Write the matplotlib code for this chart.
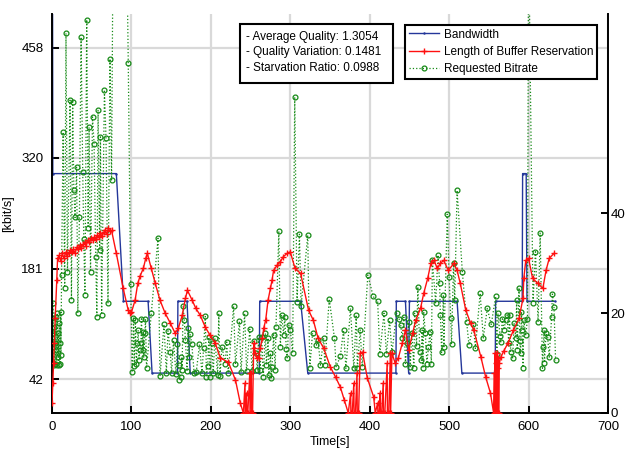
import numpy as np
import matplotlib
matplotlib.use('Agg')
from matplotlib import pyplot as plt
from matplotlib.patches import Rectangle

plt.rcParams['font.family'] = ['Liberation Sans', 'DejaVu Sans']
plt.rcParams['font.size'] = 8.5

# bandwidth (kbit/s)
bw_t = [0, 1, 81, 90, 121, 126, 158, 158.5, 170, 174, 261, 261.5, 313, 322,
        433, 433.5, 445, 449, 450, 510, 516, 558, 558.5, 592, 592.5, 597, 598, 633]
bw_v = [1000, 300, 300, 140, 140, 50, 50, 140, 140, 50, 50, 140, 140, 50,
        50, 140, 140, 50, 140, 140, 50, 50, 140, 140, 300, 300, 140, 140]

# length of buffer reservation (s), right axis
buf_t = [0, 1, 2, 3, 4, 6, 7, 9, 11, 13, 15, 17, 19, 21, 23, 25, 27, 29, 31, 33,
         35, 37, 39, 41, 43, 45, 47, 49, 51, 53, 55, 57, 59, 61, 63, 65, 67, 69,
         71, 73, 75, 81, 89.6, 96, 98, 100, 104.6, 108, 111, 115, 118, 120, 125,
         130, 136, 142.5, 149, 155, 159, 164, 168, 170.5, 176.5, 181, 186.6, 193,
         199, 205.5, 212, 222, 231, 237, 241,
         243, 243.3, 245, 245.3, 246.5, 249, 249.3, 251, 251.3, 252.5, 254, 254.3,
         256, 258, 260, 262, 265, 266.5, 269, 272, 275, 277, 279, 283.7, 287.5,
         291, 296, 300, 306, 313, 323, 329, 335, 342, 350.5, 357, 363, 368, 373,
         376, 376.3, 378, 380, 380.3, 382, 384, 384.3, 386, 388, 391, 397, 405, 407,
         410, 410.3, 412, 413, 413.3, 415, 417, 417.3, 419, 422, 422.3, 424, 426,
         426.3, 428, 432, 436, 441, 445, 449, 454, 458, 464, 468, 473, 477, 481,
         485, 489, 493, 499, 506, 510, 514, 521, 527, 531, 540, 546, 552, 556,
         557, 557.3, 558, 558.3, 559, 559.3, 560, 560.3, 561, 561.3, 562, 562.3,
         563, 565, 569, 574, 581, 588, 593, 594, 596.5, 600, 605, 611.6, 618, 622,
         626, 632]
buf_v = [2, 6, 10, 14, 19, 26.6, 31, 31.6, 30.5, 32, 31, 32.2, 31.5, 32, 32.6,
         32.3, 32.8, 32, 33.2, 32.8, 33.6, 33, 33.8, 34.2, 33.5, 34.6, 34.2, 35,
         34.6, 35.2, 34.8, 35.6, 35.2, 36, 35.4, 36.2, 36.6, 35.8, 37, 36.4, 36.6,
         32, 25, 20.6, 20, 20.2, 22.6, 26, 27.5, 29, 31, 32, 29, 26, 22.6, 20, 18,
         16, 17, 19.6, 23, 24.6, 22.6, 21, 19.6, 17.2, 15.6, 14, 11, 10.2, 6.6, 2, 0,
         6, 0, 4, 0, 0, 8, 0, 8, 0, 0, 14, 13,
         12, 11, 11, 13, 15, 17, 18.6, 22.6, 25, 26.6, 28.6, 29.7, 30.3, 31.3, 32,
         32.3, 29, 28, 20.6, 18.6, 15, 13, 9.2, 7.2, 5.2, 2.6, 0,
         4, 0, 0, 6, 0, 0, 8, 0, 0, 12, 12.2, 7, 3.2, 0,
         2, 0, 0, 4, 0, 0, 6, 0, 0, 10, 0, 0, 12, 0, 12, 10, 11, 14, 16.6, 12.6,
         16, 18.6, 21, 24, 27, 30, 30.6, 29, 30, 30.6, 28.6, 30, 28.6, 26, 20.6,
         18, 16.6, 11.2, 7.2, 4, 0,
         8, 0, 12, 0, 10, 0, 12, 0, 9, 0, 11, 0,
         10, 11.2, 12.5, 14, 16.6, 19, 23, 27, 30.6, 31, 27, 26, 25, 28.6, 31, 32]

# requested bitrate (kbit/s)
req_t = [0, 0.6, 1.2, 1.8, 2.4, 3, 3.6, 4.2, 4.8, 5.4, 6, 6.6, 7.2, 7.8, 8.4, 9,
         9.6, 10.2, 10.8, 11.4, 12, 14, 16, 17.6, 19.5, 22.7, 24.5, 26, 27.5, 29,
         31, 32.5, 34.5, 36.6, 38.7, 40, 41.5, 43.7, 45.5, 46.7, 48.5, 51, 53, 55,
         56.5, 58, 60, 61, 62.5, 66, 68, 70.5, 73, 75, 77, 85, 94, 96, 99, 101,
         102.6, 103.6, 105, 106.2, 107.6, 108.5, 109.5, 110.6, 112, 112.6, 114,
         114.7, 115.5, 117, 117.7, 119, 125, 133.5, 136, 141, 144, 146, 149, 150.5,
         153, 156, 158, 159.5, 160.5, 162, 163, 163.8, 165, 166.5, 168, 170, 171.5,
         172.5, 174, 176, 179, 181.6, 185.7, 188.8, 190.8, 193, 194.5, 196, 197.5,
         199, 201, 203, 205, 208.5, 210, 211.5, 214, 218, 220, 222, 228.6, 231, 236,
         238, 242.5, 245, 249, 252, 254, 257, 258.5, 260, 262, 264, 266, 268.6, 270,
         272, 273, 275, 276, 277, 279, 281, 282, 285.6, 287.5, 289, 291.7, 293, 295,
         296, 298, 300, 303, 305.6, 308.5, 311.5, 313.6, 322, 324.5, 328, 333, 335,
         338, 342, 343.5, 349, 355.6, 357.7, 363, 367, 370, 375.8, 380, 383, 384.5,
         388, 390.6, 397.6, 404.4, 410, 412.7, 418, 421, 425, 428, 433.8, 437, 439,
         441, 443, 445, 447, 449, 451, 453, 455.6, 456.5, 459, 460.6, 463, 465, 466,
         467, 468, 470, 472, 474, 476, 477.6, 478.9, 483, 486, 488, 489, 490.5,
         492.7, 493.4, 497.6, 500, 502, 503, 505.5, 507, 510, 516.6, 522, 525,
         530.5, 533, 539, 543, 548, 553, 558.6, 560, 561.5, 564, 565, 567, 569, 571,
         573, 575, 576, 577.5, 580, 581.7, 584, 585, 585.7, 588, 589, 590, 591, 592,
         593, 594, 596.5, 598.6, 600, 605.6, 608.7, 612, 614.6, 617.5, 618.6, 619.6,
         620, 622, 624, 626, 629, 630, 632, 634]
req_v = [119, 62, 138, 100, 60, 108, 88, 62, 120, 79, 60, 125, 70, 100, 60, 113,
         88, 62, 127, 73, 173, 352, 157, 476, 177, 392, 142, 390, 279, 245, 308,
         125, 245, 471, 302, 218, 148, 493, 232, 358, 177, 371, 337, 196, 120, 380,
         204, 346, 123, 405, 344, 138, 444, 292, 620, 640, 600, 439, 162, 51, 119,
         59, 116, 62, 88, 104, 66, 79, 88, 118, 79, 101, 70, 100, 118, 56, 125, 219,
         46, 111, 50, 103, 77, 50, 91, 49, 86, 60, 41, 45, 70, 54, 134, 117, 91, 52,
         106, 70, 99, 86, 50, 51, 86, 50, 81, 121, 45, 59, 95, 45, 88, 50, 94, 48,
         125, 46, 83, 62, 89, 50, 134, 61, 115, 51, 125, 52, 105, 52, 90, 75, 54,
         95, 54, 95, 45, 100, 60, 94, 47, 75, 44, 58, 98, 54, 108, 228, 83, 123, 98,
         120, 80, 69, 110, 104, 75, 396, 139, 224, 134, 223, 56, 100, 85, 91, 60, 94,
         60, 143, 94, 58, 71, 104, 56, 131, 56, 123, 56, 104, 58, 173, 146, 140, 74,
         125, 74, 116, 76, 125, 118, 110, 94, 120, 62, 88, 114, 58, 100, 57, 125, 84,
         158, 76, 66, 104, 56, 127, 100, 62, 83, 102, 62, 192, 138, 198, 163, 123,
         76, 148, 83, 249, 170, 119, 86, 188, 141, 279, 177, 114, 85, 111, 81, 150,
         94, 131, 111, 146, 74, 125, 97, 89, 118, 104, 116, 123, 88, 123, 76, 69,
         113, 94, 141, 79, 157, 90, 75, 127, 104, 57, 116, 98, 118, 600, 138, 202,
         114, 226, 56, 83, 104, 63, 100, 95, 70, 120, 149, 133, 66]

left_ticks = [42, 181, 320, 458]
right_ticks = [0, 20, 40]
stats = ['- Average Quality: 1.3054', '- Quality Variation: 0.1481', '- Starvation Ratio: 0.0988']

fig = plt.figure(figsize=(6.25, 4.49), dpi=100)
ax = fig.add_axes([0.0832, 0.0802, 0.8896, 0.8886])
ax2 = ax.twinx()

l1, = ax.plot(bw_t, bw_v, color='#24379a', lw=1.0, marker='.', ms=1.5)
l3, = ax.plot(req_t, req_v, color='#168a16', ls=':', lw=0.9, marker='o', ms=3.5,
              mfc='none', mew=0.9)
l2, = ax2.plot(buf_t, buf_v, color='#ff1010', lw=1.0, marker='+', ms=5, mew=1.0)

ax.set_xlim(0, 700)
ax.set_ylim(0, 500)
ax2.set_ylim(0, 80)
ax.set_xticks(range(0, 701, 100))
ax.set_yticks(left_ticks)
ax2.set_yticks(right_ticks)
ax.grid(True, color='#d9d9d9', lw=1.6)
ax.set_axisbelow(True)

for a in (ax, ax2):
    a.spines['top'].set_visible(False)
    for s in a.spines.values():
        s.set_linewidth(1.4)
    a.tick_params(direction='in', length=5, width=1.4, labelsize=9.5)
ax.spines['right'].set_visible(False)
ax2.spines['left'].set_visible(False)
ax2.spines['bottom'].set_visible(False)
ax.tick_params(axis='x', pad=6)
ax.tick_params(axis='y', pad=6)
ax2.tick_params(axis='y', pad=2)

ax.set_xlabel('Time[s]', fontsize=9)
ax.set_ylabel('[kbit/s]', fontsize=9)
ax.xaxis.set_label_coords(0.5, -0.058)
ax.yaxis.set_label_coords(-0.068, 0.5)

leg = ax2.legend([l1, l2, l3], ['Bandwidth', 'Length of Buffer Reservation', 'Requested Bitrate'],
                 loc='upper left', bbox_to_anchor=(405 / 625, 1 - 25 / 449),
                 bbox_transform=fig.transFigure, fancybox=False, framealpha=1,
                 edgecolor='black', handlelength=2.6, handletextpad=0.4,
                 labelspacing=0.45, borderpad=0.3, borderaxespad=0)
leg.get_frame().set_linewidth(1.5)

# statistics box
fig.patches.append(Rectangle((240 / 625, 1 - 83 / 449), 153 / 625, 59 / 449,
                             transform=fig.transFigure, fc='white', ec='black',
                             lw=1.5, zorder=5))
for i, s in enumerate(stats):
    fig.text(246 / 625, 1 - (37 + 15.5 * i) / 449, s, va='center', ha='left',
             fontsize=8.5, zorder=6)

fig.savefig('out.png', dpi=100)
